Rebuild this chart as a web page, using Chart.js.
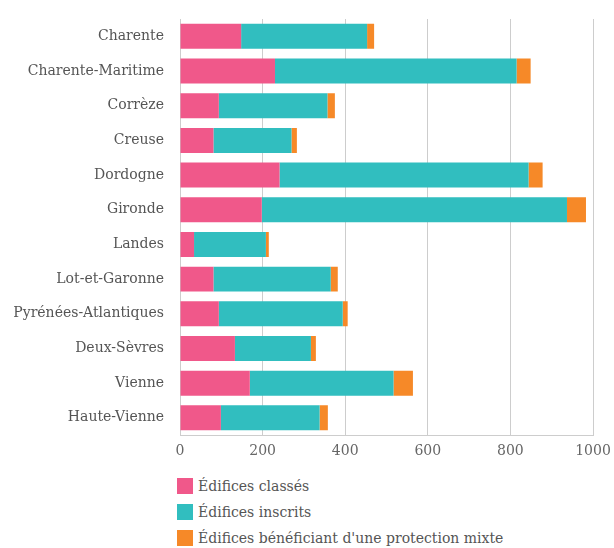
<!DOCTYPE html>
<html lang="fr">
<head>
<meta charset="utf-8">
<script src="https://cdn.jsdelivr.net/npm/chart.js@4/dist/chart.umd.min.js"></script>
<style>
  html, body { margin: 0; padding: 0; background: #fff; }
  #wrap { position: relative; width: 614px; height: 548px; }
  #chart { display: block; }
  .legend {
    position: absolute;
    left: 177px;
    top: 473px;
    margin: 0;
    padding: 0;
    list-style: none;
    font-family: "DejaVu Serif", serif;
    font-size: 14px;
    color: #555;
  }
  .legend li { display: flex; align-items: center; height: 26px; }
  .legend span.box { width: 16px; height: 16px; margin-right: 5px; }
</style>
</head>
<body>
<div id="wrap">
  <canvas id="chart" width="614" height="468"></canvas>
  <ul class="legend" id="legend"></ul>
</div>
<script>
const departements = [
  "Charente", "Charente-Maritime", "Corrèze", "Creuse", "Dordogne", "Gironde",
  "Landes", "Lot-et-Garonne", "Pyrénées-Atlantiques", "Deux-Sèvres", "Vienne", "Haute-Vienne",
];
const classes = [148, 230, 94, 81, 241, 198, 34, 81, 94, 133, 169, 99];
const inscrits = [305, 585, 263, 189, 603, 739, 174, 284, 300, 184, 348, 239];
const mixtes = [17, 34, 18, 13, 34, 46, 7, 17, 12, 12, 47, 20];
const xTicks = [0, 200, 400, 600, 800, 1000];

const palette = {
  classes: "#F0588A",
  inscrits: "#31BEBF",
  mixtes: "#F68928",
  grid: "#cdcdcd",
};

const fontFamily = "'DejaVu Serif', serif";

const series = [
  { label: "Édifices classés", data: classes, color: palette.classes },
  { label: "Édifices inscrits", data: inscrits, color: palette.inscrits },
  { label: "Édifices bénéficiant d'une protection mixte", data: mixtes, color: palette.mixtes },
];

new Chart(document.getElementById("chart"), {
  type: "bar",
  data: {
    labels: departements,
    datasets: series.map((s) => ({
      label: s.label,
      data: s.data,
      backgroundColor: s.color,
      borderWidth: 0,
    })),
  },
  options: {
    indexAxis: "y",
    responsive: false,
    animation: false,
    layout: { padding: { top: 19, right: 21, left: 0, bottom: 0 } },
    plugins: {
      legend: { display: false },
      tooltip: { enabled: false },
    },
    scales: {
      x: {
        stacked: true,
        min: 0,
        max: 1000,
        afterBuildTicks: (scale) => {
          scale.ticks = xTicks.map((value) => ({ value }));
        },
        afterFit: (scale) => {
          scale.paddingLeft = 0;
          scale.paddingRight = 0;
        },
        grid: { color: palette.grid, drawTicks: false },
        border: { color: palette.grid },
        ticks: {
          padding: 8,
          color: "#666",
          font: { family: fontFamily, size: 14 },
          callback: (value) => String(value),
        },
      },
      y: {
        stacked: true,
        afterFit: (scale) => {
          scale.width = 180;
          scale.paddingTop = 0;
          scale.paddingBottom = 0;
        },
        grid: { display: false, drawTicks: false },
        border: { color: palette.grid },
        ticks: {
          padding: 16,
          color: "#555",
          font: { family: fontFamily, size: 14 },
        },
      },
    },
  },
});

const legend = document.getElementById("legend");
series.forEach((s) => {
  const item = document.createElement("li");
  const box = document.createElement("span");
  box.className = "box";
  box.style.background = s.color;
  const text = document.createElement("span");
  text.textContent = s.label;
  item.append(box, text);
  legend.appendChild(item);
});
</script>
</body>
</html>
